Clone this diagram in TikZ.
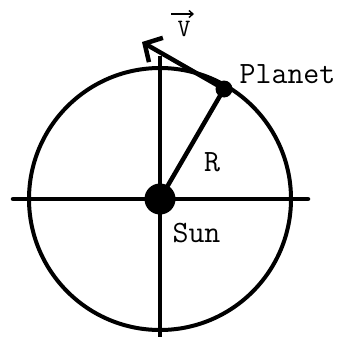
\documentclass[tikz,border=0pt]{standalone}
\usetikzlibrary{arrows.meta}
\begin{document}
\begin{tikzpicture}[x=1pt,y=-1pt,
  heavy/.style={line width=4.5pt},
  lbl/.style={font=\fontsize{31}{33}\selectfont\ttfamily, anchor=base, inner sep=0pt}]
\useasboundingbox (0,0) rectangle (345,337);
\coordinate (sun) at (160,199);
\coordinate (hl) at (13,199);
\coordinate (hr) at (308,199);
\coordinate (vt) at (160,56);
\coordinate (vb) at (160,337);
\coordinate (tip) at (142,42);
\draw[heavy, line cap=round] (hl) -- (hr);
\draw[heavy] (vt) -- (vb);
\draw[line width=4pt] (sun) circle[radius=131];
\node[circle, fill=black, minimum size=31pt, inner sep=0pt] (sunnode) at (sun) {};
\node[circle, fill=black, minimum size=17pt, inner sep=0pt] (planet) at (224,89) {};
\draw[heavy] (sunnode.center) -- (planet.center);
\draw[heavy, -{Straight Barb[length=13pt,width=28pt,line width=4.5pt]}] (planet.center) -- (tip);
\node[lbl] (tP) at (287.5,83) {Planet};
\node[lbl] (tR) at (212,171) {R};
\node[lbl] (tS) at (196.5,242) {Sun};
\node[lbl, font=\fontsize{25}{27}\selectfont\ttfamily] (tV) at (184,37) {V};
\coordinate (va) at (171,14);
\coordinate (vz) at (194,14);
\draw[line width=1.6pt, -{Straight Barb[length=4pt,width=7pt,line width=1.4pt]}] (va) -- (vz);
\end{tikzpicture}
\end{document}
